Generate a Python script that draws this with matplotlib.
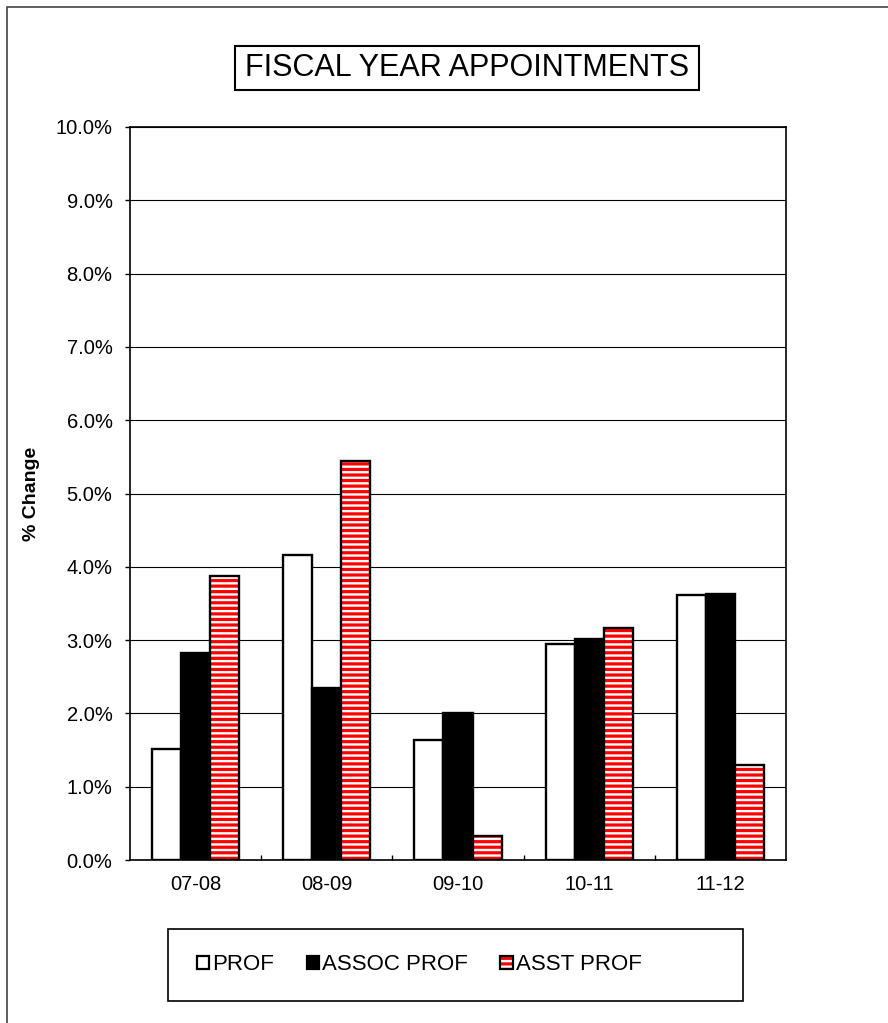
import numpy as np
import matplotlib
matplotlib.use("Agg")
import matplotlib.pyplot as plt
from matplotlib.patches import Patch, Rectangle
from matplotlib.legend_handler import HandlerTuple
from matplotlib.ticker import FuncFormatter, MultipleLocator

plt.rcParams['font.family'] = ['Liberation Sans', 'DejaVu Sans']
plt.rcParams['hatch.linewidth'] = 2.3

# values (% change)
years = ["07-08", "08-09", "09-10", "10-11", "11-12"]
prof = [1.51, 4.16, 1.64, 2.94, 3.61]
assoc_prof = [2.83, 2.34, 2.01, 3.02, 3.63]
asst_prof = [3.88, 5.45, 0.33, 3.17, 1.29]
series_names = ["PROF", "ASSOC PROF", "ASST PROF"]

fig = plt.figure(figsize=(8.88, 10.23), dpi=100)
ax = fig.add_axes([130 / 888, 1 - 860 / 1023, 656 / 888, 733 / 1023])

x = np.arange(len(years))
w = 0.222

# PROF: white bars
ax.bar(x - w, prof, w, facecolor="white", edgecolor="black", linewidth=1.7, zorder=3)
# ASSOC PROF: black bars
ax.bar(x, assoc_prof, w, facecolor="black", edgecolor="black", linewidth=1.7, zorder=3)
# ASST PROF: red horizontal stripes, black outline drawn on top
ax.bar(x + w, asst_prof, w, facecolor="white", edgecolor="red", hatch="---",
       linewidth=0, zorder=3)
ax.bar(x + w, asst_prof, w, fill=False, edgecolor="black", linewidth=1.7, zorder=4)

ax.set_xlim(-0.5, len(years) - 0.5)
ax.set_ylim(0, 10)
ax.yaxis.set_major_locator(MultipleLocator(1))
ax.yaxis.set_major_formatter(FuncFormatter(lambda v, p: f"{v:.1f}%"))
ax.grid(axis="y", color="black", linewidth=0.8, zorder=0)
ax.set_axisbelow(True)

ax.set_xticks(x)
ax.set_xticklabels(years)
ax.set_xticks(np.arange(len(years) - 1) + 0.5, minor=True)
ax.tick_params(axis="x", which="major", length=0, pad=11, labelsize=14.5)
ax.tick_params(axis="x", which="minor", direction="in", length=3.6, width=1)
ax.tick_params(axis="y", which="major", direction="out", length=3.6, width=1,
               pad=9, labelsize=14.5)
for s in ax.spines.values():
    s.set_linewidth(1.2)

fig.text(32 / 888, 1 - 494 / 1023, "% Change", rotation=90, ha="center", va="center",
         fontsize=14, fontweight="bold")

# title in its own box
fig.add_artist(Rectangle((235 / 888, 1 - 90 / 1023), 464 / 888, 44 / 1023,
                         transform=fig.transFigure, facecolor="white",
                         edgecolor="black", linewidth=1.5))
fig.text(467 / 888, 1 - 68 / 1023, "FISCAL YEAR APPOINTMENTS", ha="center", va="center",
         fontsize=22)

# legend
h_prof = Patch(facecolor="white", edgecolor="black", linewidth=1.6)
h_assoc = Patch(facecolor="black", edgecolor="black", linewidth=1.6)
h_asst = (Patch(facecolor="white", edgecolor="red", hatch="---", linewidth=0),
          Patch(fill=False, edgecolor="black", linewidth=1.6))
fig.legend([h_prof, h_assoc, h_asst], series_names, ncol=3, frameon=False,
           loc="center left", bbox_to_anchor=(197 / 888, 1 - 965 / 1023),
           fontsize=16, handlelength=0.55, handleheight=0.55, handletextpad=0.15,
           columnspacing=1.45, borderpad=0, borderaxespad=0,
           handler_map={tuple: HandlerTuple(ndivide=1, pad=0)})
fig.add_artist(Rectangle((168 / 888, 1 - 1001 / 1023), 575 / 888, 72 / 1023,
                         transform=fig.transFigure, fill=False, edgecolor="black",
                         linewidth=1.2))

# outer chart border (left and top edges visible)
fig.add_artist(Rectangle((7 / 888, -0.1), 1.2, 1.1 - 7 / 1023,
                         transform=fig.transFigure, fill=False, edgecolor="#444444",
                         linewidth=1.2))

fig.savefig("out.png", dpi=100)
